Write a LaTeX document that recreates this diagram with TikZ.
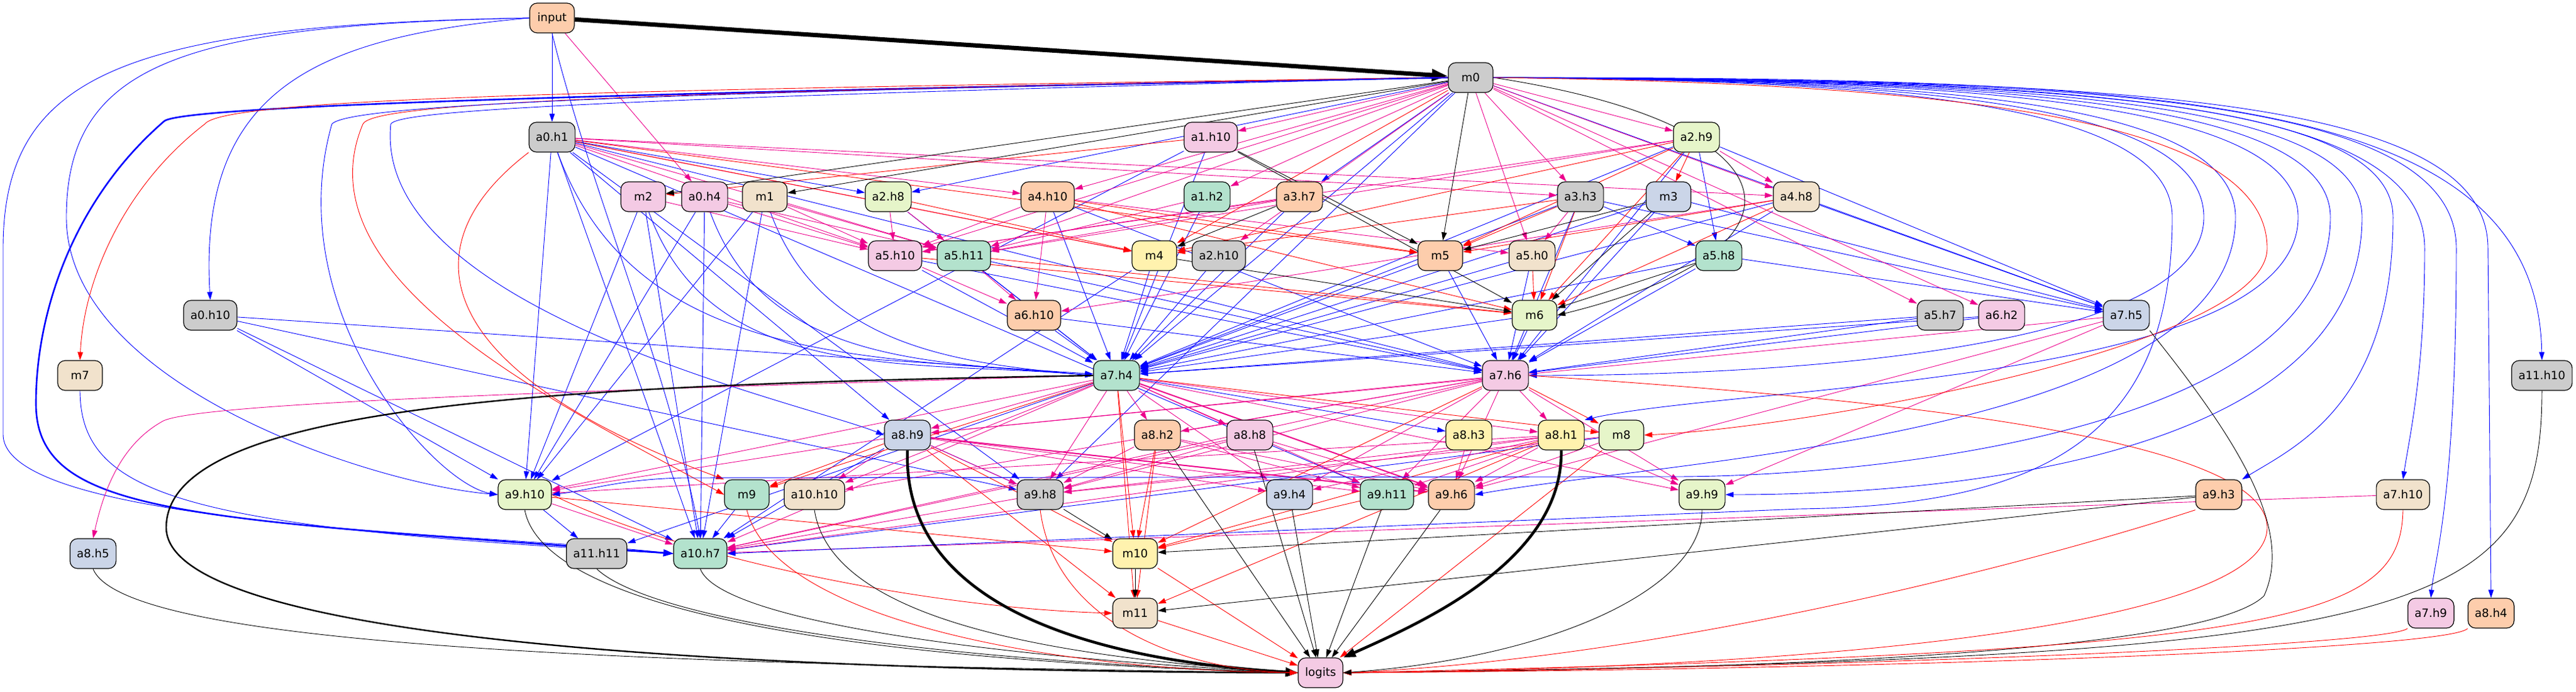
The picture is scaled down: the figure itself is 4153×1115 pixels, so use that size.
\documentclass[tikz,border=0pt]{standalone}
\usepackage{fontspec}
\setmainfont{DejaVu Sans}
\usetikzlibrary{arrows.meta}

\definecolor{pgray}{HTML}{CCCCCC}
\definecolor{porange}{HTML}{FDCDAC}
\definecolor{pblue}{HTML}{CBD5E8}
\definecolor{ppink}{HTML}{F4CAE4}
\definecolor{plime}{HTML}{E6F5C9}
\definecolor{pyellow}{HTML}{FFF2AE}
\definecolor{pbeige}{HTML}{F1E2CC}
\definecolor{pgreen}{HTML}{B3E2CD}

\pgfdeclarelayer{edges}
\pgfsetlayers{edges,main}

\begin{document}
\begin{tikzpicture}[
  x=1pt, y=1pt,
  box/.style={draw, line width=1.2pt, rounded corners=12pt, minimum width=72pt,
    minimum height=48pt, inner xsep=11pt, inner ysep=0pt,
    font=\fontsize{18.4}{22}\selectfont},
  line/.style={-{Triangle[length=13pt,width=8.5pt]}, line width=0.9pt},
  qline/.style={line, blue},
  kline/.style={line, magenta},
  vline/.style={line, red},
  oline/.style={line, black},
  heavy/.style={line width=2pt, -{Triangle[length=16pt,width=10pt]}}
]
\useasboundingbox (0,0) rectangle (4153,-1115);

% nodes, row by row
\node[box, fill=porange] (input) at (890,-29) {input};
\node[box, fill=pgray] (m0) at (2371,-125) {m0};

\node[box, fill=pgray] (a0h1) at (890,-221) {a0.h1};
\node[box, fill=ppink] (a1h10) at (1952,-221) {a1.h10};
\node[box, fill=plime] (a2h9) at (2735,-221) {a2.h9};

\node[box, fill=ppink] (m2) at (1037,-317) {m2};
\node[box, fill=ppink] (a0h4) at (1136,-317) {a0.h4};
\node[box, fill=pbeige] (m1) at (1233,-317) {m1};
\node[box, fill=plime] (a2h8) at (1432,-317) {a2.h8};
\node[box, fill=porange] (a4h10) at (1689,-317) {a4.h10};
\node[box, fill=pgreen] (a1h2) at (1946,-317) {a1.h2};
\node[box, fill=porange] (a3h7) at (2095,-317) {a3.h7};
\node[box, fill=pgray] (a3h3) at (2548,-317) {a3.h3};
\node[box, fill=pblue] (m3) at (2690,-317) {m3};
\node[box, fill=pbeige] (a4h8) at (2896,-317) {a4.h8};

\node[box, fill=ppink] (a5h10) at (1443,-412) {a5.h10};
\node[box, fill=pgreen] (a5h11) at (1554,-412) {a5.h11};
\node[box, fill=pyellow] (m4) at (1861,-412) {m4};
\node[box, fill=pgray] (a2h10) at (1965,-412) {a2.h10};
\node[box, fill=porange] (m5) at (2322,-412) {m5};
\node[box, fill=pbeige] (a5h0) at (2470,-412) {a5.h0};
\node[box, fill=pgreen] (a5h8) at (2771,-412) {a5.h8};

\node[box, fill=pgray] (a0h10) at (339,-508) {a0.h10};
\node[box, fill=porange] (a6h10) at (1667,-508) {a6.h10};
\node[box, fill=plime] (m6) at (2474,-508) {m6};
\node[box, fill=pgray] (a5h7) at (3128,-508) {a5.h7};
\node[box, fill=ppink] (a6h2) at (3227,-508) {a6.h2};
\node[box, fill=pblue] (a7h5) at (3428,-508) {a7.h5};

\node[box, fill=pbeige] (m7) at (129,-605) {m7};
\node[box, fill=pgreen] (a7h4) at (1800,-605) {a7.h4};
\node[box, fill=ppink] (a7h6) at (2427,-605) {a7.h6};
\node[box, fill=pgray] (a11h10) at (4098,-605) {a11.h10};

\node[box, fill=pblue] (a8h9) at (1463,-701) {a8.h9};
\node[box, fill=porange] (a8h2) at (1866,-701) {a8.h2};
\node[box, fill=ppink] (a8h8) at (2015,-701) {a8.h8};
\node[box, fill=pyellow] (a8h3) at (2368,-701) {a8.h3};
\node[box, fill=pyellow] (a8h1) at (2517,-701) {a8.h1};
\node[box, fill=plime] (m8) at (2614,-701) {m8};

\node[box, fill=plime] (a9h10) at (846,-797) {a9.h10};
\node[box, fill=pgreen] (m9) at (1204,-797) {m9};
\node[box, fill=pbeige] (a10h10) at (1313,-797) {a10.h10};
\node[box, fill=pgray] (a9h8) at (1677,-797) {a9.h8};
\node[box, fill=pblue] (a9h4) at (2079,-797) {a9.h4};
\node[box, fill=pgreen] (a9h11) at (2236,-797) {a9.h11};
\node[box, fill=porange] (a9h6) at (2340,-797) {a9.h6};
\node[box, fill=plime] (a9h9) at (2744,-797) {a9.h9};
\node[box, fill=porange] (a9h3) at (3577,-797) {a9.h3};
\node[box, fill=pbeige] (a7h10) at (3874,-797) {a7.h10};

\node[box, fill=pblue] (a8h5) at (150,-892) {a8.h5};
\node[box, fill=pgray] (a11h11) at (962,-892) {a11.h11};
\node[box, fill=pgreen] (a10h7) at (1129,-892) {a10.h7};
\node[box, fill=pyellow] (m10) at (1830,-892) {m10};

\node[box, fill=pbeige] (m11) at (1830,-988) {m11};
\node[box, fill=ppink] (a7h9) at (3919,-988) {a7.h9};
\node[box, fill=porange] (a8h4) at (4016,-988) {a8.h4};

\node[box, fill=ppink] (logits) at (2129,-1084) {logits};

\begin{pgfonlayer}{edges}
% main path
\draw[oline, line width=7pt, -{Triangle[length=26pt,width=18pt]}] (input) -- (m0);

% blue edges
\foreach \src/\dst in {input/a0h1, m0/a2h8, m0/a3h7, m0/a7h4, m0/a7h5,
  m0/a9h8, a0h1/a2h8, a0h1/a9h10, a0h1/a10h7, a0h1/a8h9, a0h1/a9h8,
  a0h1/a7h6, a0h1/a9h11, a0h10/a7h4, a0h10/a9h10, a0h10/a10h7, a0h10/a9h8,
  m2/a9h10, m2/a10h7, a0h4/a9h10, a0h4/a10h7,
  m1/a9h10, m1/a10h7, a1h10/a7h4, a1h10/a9h10, a2h8/a7h4,
  a5h10/a7h4, a5h10/a7h6, a5h11/a7h4, a5h11/a7h6, a4h10/a7h4, a4h10/a7h6,
  a1h2/a7h4, a3h7/a7h4, a2h10/a7h4, m4/a7h4, m4/a10h7, a6h10/a7h4, a6h10/a7h6,
  m5/a7h4, m5/a7h6, a3h3/a7h4, a3h3/a5h8, a3h3/a7h5, a3h3/a7h6,
  m3/a7h4, m3/a7h6, m3/a7h5, a5h0/a7h4, a5h0/a7h6, a5h8/a7h4, a5h8/a7h5,
  a5h8/a7h6, m6/a7h4, m6/a7h6, a5h7/a7h4, a5h7/a7h6, a6h2/a7h4, a6h2/a7h6,
  a2h9/a7h5, a2h9/a5h8, a2h9/a7h4, a2h9/a7h6, a4h8/a7h4, a4h8/a7h5, a4h8/a7h6,
  a7h4/a8h3, a7h4/a11h11, a9h10/a11h11, m9/a10h7, a8h9/a9h8, m8/a10h7, a8h9/a10h7}
  \draw[qline] (\src) -- (\dst);
\foreach \src in {a0h1, m2, a0h4, m1}
  \draw[qline] (\src) to[out=-70, in=175] (a7h4.west);

% magenta edges
\foreach \src/\dst in {input/a0h4, m0/a1h10, m0/a2h9, m0/a4h10, m0/a1h2, m0/a3h3,
  m0/a2h10, m0/a5h10, m0/a5h11, m0/a5h0, m0/a4h8, m0/a5h7, m0/a6h2,
  a0h1/a4h10, a0h1/a3h3, a0h1/a5h10, a0h1/a5h11, a0h1/a4h8, a0h1/m4,
  a0h4/a5h10, a0h4/a5h11, m2/a5h10, m1/a5h10, m1/a5h11, a2h8/a5h10, a2h8/a5h11,
  a4h10/a5h10, a4h10/a6h10, a4h10/a5h0, a1h2/a5h11, a3h7/a5h11, a3h7/a5h10,
  a3h3/a5h0, a2h9/a4h8, a2h9/a5h10, a2h9/a5h11, a4h8/a6h10, a5h10/a6h10,
  a5h11/a6h10, a7h5/a8h9, a7h5/a9h9, a7h5/a9h6,
  a7h4/a9h10, a7h4/a8h9, a7h4/a8h2, a7h4/a8h8, a7h4/a10h10, a7h4/a9h8,
  a7h4/a9h4, a7h4/a9h11, a7h4/a8h1, a7h4/a10h7, a7h4/a9h9,
  a7h6/a8h9, a7h6/a8h2, a7h6/a8h1, a7h6/a9h8, a7h6/a9h4, a7h6/a9h11,
  a7h6/a9h6, a7h6/a9h9, a7h6/a10h10, a7h6/a10h7,
  a8h9/a9h10, a8h9/a10h10, a8h9/a9h8, a8h9/a9h4, a8h9/a9h11,
  a8h2/a9h8, a8h2/a9h6, a8h2/a9h11, a8h8/a9h8, a8h8/a9h6, a8h8/a10h7, a8h3/a9h6,
  a8h1/a9h8, a8h1/a9h4, a8h1/a9h11, a8h1/a9h6, a8h1/a9h9, a8h1/a10h7, a8h1/a9h10,
  m8/a9h6, m8/a9h8, a9h10/a10h7, a9h8/a10h7, a7h10/a10h7}
  \draw[kline] (\src) -- (\dst);
\draw[kline, heavy] (a8h9) -- (a9h6);
\draw[kline, heavy] (a7h4) -- (a9h6);

% red edges
\foreach \src/\dst in {m0/m4, a1h10/m2, a0h1/m4, a0h1/m5, a2h9/m3, a2h9/m5, a2h9/m6,
  a2h9/m4, a2h8/m4, a4h10/m5, a4h10/m6, a3h3/m5, a3h3/m6, a3h3/m4, a4h8/m6,
  a4h8/m5, a5h0/m6, a5h10/m6, a5h11/m6, a7h4/m8, a7h4/m9, a7h4/m10, a7h4/m11,
  a7h6/m8, a7h6/m10, a8h9/m10, a8h9/m11, a8h9/m9, a8h2/m10, a8h2/m11,
  a8h1/m10, a8h1/m11, a9h11/m10, a9h10/m10, m10/logits, m11/logits, m8/logits}
  \draw[vline] (\src) -- (\dst);

% black edges
\foreach \src/\dst in {m0/m1, m0/m2, m0/m5, a1h10/m5, a1h10/m6, a3h7/m4, m3/m5,
  m3/m6, a5h8/m6, m4/m6, a9h8/m10, a9h3/m10, a9h3/m11, m10/m11,
  a8h2/logits, a8h8/logits, a9h4/logits, a9h11/logits, a9h6/logits}
  \draw[oline] (\src) -- (\dst);

% long routes on the left
\draw[qline] (input.south) .. controls (950,-300) and (1080,-600) .. (a10h7.north);
\draw[qline] (input.west) .. controls (500,-60) and (320,-150) .. (a0h10.north);
\draw[qline] (input.west) .. controls (300,-40) and (107,-100) .. (107,-350)
  .. controls (107,-620) and (600,-780) .. (a9h10.west);
\draw[qline] (input.west) .. controls (200,-40) and (5,-120) .. (5,-400)
  -- (5,-700) .. controls (5,-850) and (800,-860) .. (a10h7.west);
\draw[qline, line width=2.6pt, -{Triangle[length=16pt,width=11pt]}] (m0.west)
  .. controls (1000,-150) and (300,-170) .. (265,-195)
  .. controls (120,-320) and (58,-500) .. (58,-650)
  .. controls (58,-830) and (300,-835) .. (a10h7.west);
\draw[vline] (m0.west) .. controls (900,-145) and (360,-160) .. (330,-200)
  .. controls (200,-300) and (135,-450) .. (m7.north);
\draw[vline] (m0.west) .. controls (900,-150) and (600,-170) .. (585,-200)
  .. controls (480,-450) and (900,-650) .. (m9.west);
\draw[vline] (a0h1.south west) .. controls (650,-400) and (700,-600) .. (m9.north west);
\draw[qline] (m0.west) .. controls (1000,-150) and (560,-170) .. (535,-200)
  .. controls (450,-500) and (700,-780) .. (a9h10.west);
\draw[qline] (m0.west) .. controls (900,-160) and (640,-180) .. (630,-200)
  .. controls (600,-500) and (1300,-650) .. (a8h9.west);
\draw[qline] (m7.south) .. controls (130,-800) and (300,-850) .. (a10h7.west);
\draw[kline] (a7h4.west) .. controls (900,-630) and (300,-650) .. (260,-680)
  .. controls (190,-720) and (165,-800) .. (a8h5.north);
\draw[vline] (a9h10.east) .. controls (1100,-900) and (1500,-980) .. (m11.west);

% long routes on the right
\draw[oline] (m0.east) .. controls (2900,-200) and (2950,-400) .. (m6.east);
\draw[qline] (m0.east) .. controls (3000,-130) and (3553,-150) .. (3553,-350)
  .. controls (3553,-560) and (2900,-605) .. (a7h6.east);
\draw[qline] (m0.east) .. controls (3100,-130) and (3705,-150) .. (3705,-350)
  .. controls (3705,-620) and (2800,-620) .. (a8h1.north east);
\draw[qline] (m0.east) .. controls (3050,-130) and (3604,-150) .. (3604,-350)
  .. controls (3604,-700) and (2700,-740) .. (a9h6.east);
\draw[qline] (m0.east) .. controls (3150,-130) and (3757,-150) .. (3757,-350)
  .. controls (3757,-700) and (3000,-768) .. (2700,-768) -- (1100,-770)
  .. controls (1000,-772) and (950,-790) .. (a9h10.east);
\draw[qline] (m0.east) .. controls (3200,-130) and (3808,-150) .. (3808,-350)
  .. controls (3808,-720) and (3200,-797) .. (a9h9.east);
\draw[qline] (m0.east) .. controls (3250,-130) and (3858,-150) .. (3858,-350)
  .. controls (3858,-650) and (3700,-720) .. (a9h3.north east);
\draw[qline] (m0.east) .. controls (3300,-128) and (3909,-150) .. (3909,-400)
  .. controls (3909,-600) and (3885,-700) .. (a7h10.north);
\draw[qline] (m0.east) .. controls (3350,-128) and (3960,-150) .. (3960,-400)
  .. controls (3960,-800) and (3925,-900) .. (a7h9.north);
\draw[qline] (m0.east) .. controls (3400,-128) and (4011,-150) .. (4011,-400)
  -- (a8h4.north);
\draw[qline] (m0.east) .. controls (3500,-125) and (4090,-150) .. (a11h10.north);
\draw[qline] (m0.east) .. controls (2950,-130) and (3502,-150) .. (3502,-350)
  .. controls (3502,-700) and (3300,-815) .. (2900,-820) -- (a10h7.east);
\draw[vline] (m0.east) .. controls (3200,-135) and (3655,-200) .. (3655,-400)
  .. controls (3655,-560) and (2900,-690) .. (m8.east);

% into logits
\draw[oline, line width=2.4pt, -{Triangle[length=18pt,width=12pt]}] (a7h4.west)
  .. controls (900,-620) and (268,-650) .. (268,-850)
  .. controls (268,-1000) and (900,-1080) .. (logits.west);
\draw[oline, line width=4.5pt, -{Triangle[length=20pt,width=14pt]}] (a8h9.south)
  .. controls (1455,-950) and (1700,-1060) .. (logits.west);
\draw[oline, line width=4.5pt, -{Triangle[length=20pt,width=14pt]}] (a8h1.south)
  .. controls (2520,-900) and (2300,-1000) .. (logits.north east);
\draw[oline] (a9h10.south) .. controls (870,-950) and (1200,-1060) .. (logits.west);
\draw[oline] (a11h11.south) .. controls (1050,-1000) and (1500,-1065) .. (logits.west);
\draw[oline] (a10h7.south) .. controls (1160,-1000) and (1600,-1060) .. (logits.west);
\draw[oline] (a8h5.south) .. controls (200,-1040) and (1000,-1070) .. (logits.west);
\draw[oline] (a10h10.south) .. controls (1340,-1000) and (1700,-1060) .. (logits.west);
\draw[vline] (m9.south) .. controls (1250,-1000) and (1700,-1080) .. (logits.west);
\draw[vline] (a9h8.south) .. controls (1700,-1000) and (1900,-1080) .. (logits.west);
\draw[vline] (a7h6.east) .. controls (3000,-640) and (3655,-700) .. (3655,-850)
  .. controls (3655,-1000) and (3000,-1075) .. (logits.east);
\draw[oline] (a7h5.south east) .. controls (3600,-700) and (3700,-850) .. (3650,-960)
  .. controls (3550,-1060) and (2700,-1080) .. (logits.east);
\draw[oline] (a11h10.south) .. controls (4098,-1000) and (3900,-1060) .. (logits.east);
\draw[vline] (a7h10.south) .. controls (3870,-1000) and (3700,-1050) .. (logits.east);
\draw[vline] (a7h9.south west) .. controls (3850,-1040) and (3000,-1075) .. (logits.east);
\draw[vline] (a8h4.south west) .. controls (3950,-1045) and (3100,-1078) .. (logits.east);
\draw[vline] (a9h3.south west) .. controls (3300,-900) and (2700,-1060) .. (logits.east);
\draw[oline] (a9h9.south) .. controls (2744,-950) and (2500,-1060) .. (logits.east);
\end{pgfonlayer}
\end{tikzpicture}
\end{document}
